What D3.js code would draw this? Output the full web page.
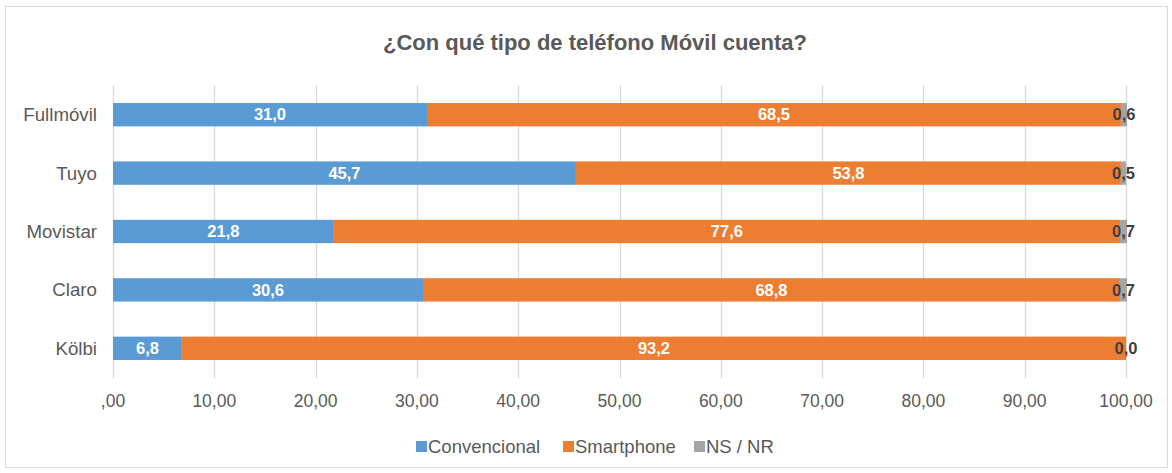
<!DOCTYPE html>
<html>
<head>
<meta charset="utf-8">
<script src="https://cdn.jsdelivr.net/npm/d3@7"></script>
<style>
  body { margin: 0; background: #fff; }
  svg { font-family: "Liberation Sans", Arial, sans-serif; }
</style>
</head>
<body>
<script>
const categories   = ["Fullmóvil", "Tuyo", "Movistar", "Claro", "Kölbi"]
const convencional = [31.0, 45.7, 21.8, 30.6, 6.8]
const smartphone   = [68.5, 53.8, 77.6, 68.8, 93.2]
const nsnr         = [0.6, 0.5, 0.7, 0.7, 0.0]
const seriesNames  = ["Convencional", "Smartphone", "NS / NR"]
const tickValues   = [0, 10, 20, 30, 40, 50, 60, 70, 80, 90, 100]
const tickLabels   = [",00", "10,00", "20,00", "30,00", "40,00", "50,00", "60,00", "70,00", "80,00", "90,00", "100,00"]

const colors = ["#5B9BD5", "#ED7D31", "#A5A5A5"]
const width = 1172, height = 473

const svg = d3.select("body").append("svg")
    .attr("width", width)
    .attr("height", height)

svg.append("rect")
    .attr("x", 5.5).attr("y", 6.5)
    .attr("width", 1162).attr("height", 461)
    .attr("fill", "#fff")
    .attr("stroke", "#D9D9D9")

svg.append("text")
    .attr("x", 595).attr("y", 50)
    .attr("text-anchor", "middle")
    .attr("font-size", "22px")
    .attr("font-weight", "bold")
    .attr("fill", "#595959")
    .text("¿Con qué tipo de teléfono Móvil cuenta?")

const x = d3.scaleLinear().domain([0, 100]).range([113, 1126])
const y = d3.scaleBand().domain(categories).range([85.5, 377.5]).paddingInner(0.6).paddingOuter(0.3)

// gridlines
svg.append("g")
    .selectAll("line")
    .data(tickValues)
    .enter()
    .append("line")
        .attr("x1", d => Math.round(x(d)) + 0.5)
        .attr("x2", d => Math.round(x(d)) + 0.5)
        .attr("y1", 85.5)
        .attr("y2", 378)
        .attr("stroke", "#D9D9D9")
        .attr("stroke-width", 1.3)

// tick labels
svg.append("g")
    .selectAll("text")
    .data(tickValues)
    .enter()
    .append("text")
        .attr("x", d => x(d))
        .attr("y", 407)
        .attr("text-anchor", "middle")
        .attr("font-size", "17.5px")
        .attr("fill", "#595959")
        .text((d, i) => tickLabels[i])

// category labels
svg.append("g")
    .selectAll("text")
    .data(categories)
    .enter()
    .append("text")
        .attr("x", 97)
        .attr("y", d => y(d) + y.bandwidth() / 2)
        .attr("dy", "0.35em")
        .attr("text-anchor", "end")
        .attr("font-size", "18.7px")
        .attr("fill", "#595959")
        .text(d => d)

const rows = categories.map((c, i) => ({ cat: c, Convencional: convencional[i], Smartphone: smartphone[i], "NS / NR": nsnr[i] }))
const stacked = d3.stack().keys(seriesNames)(rows)

const layers = svg.append("g")
    .selectAll("g")
    .data(stacked)
    .enter()
    .append("g")
        .attr("fill", (d, i) => colors[i])

layers.selectAll("rect")
    .data(d => d)
    .enter()
    .append("rect")
        .attr("x", d => x(d[0]))
        .attr("y", d => y(d.data.cat))
        .attr("width", d => Math.max(0, x(d[1]) - x(d[0])))
        .attr("height", y.bandwidth())

const fmt = v => v.toFixed(1).replace(".", ",")

layers.each(function(layer, li) {
    d3.select(this).selectAll("text")
        .data(layer)
        .enter()
        .append("text")
            .attr("x", d => (x(d[0]) + x(d[1])) / 2)
            .attr("y", d => y(d.data.cat) + y.bandwidth() / 2)
            .attr("dy", "0.35em")
            .attr("text-anchor", "middle")
            .attr("font-size", "16.5px")
            .attr("font-weight", "bold")
            .attr("fill", li === 2 ? "#404040" : "#fff")
            .text(d => fmt(d[1] - d[0]))
})

// legend
const legendX = [416, 563, 694]
const legend = svg.append("g")
    .selectAll("g")
    .data(seriesNames)
    .enter()
    .append("g")
        .attr("transform", (d, i) => `translate(${legendX[i]},441)`)

legend.append("rect")
    .attr("width", 11).attr("height", 11)
    .attr("fill", (d, i) => colors[i])

legend.append("text")
    .attr("x", 12)
    .attr("y", 11.5)
    .attr("font-size", "18.5px")
    .attr("fill", "#595959")
    .text(d => d)
</script>
</body>
</html>
